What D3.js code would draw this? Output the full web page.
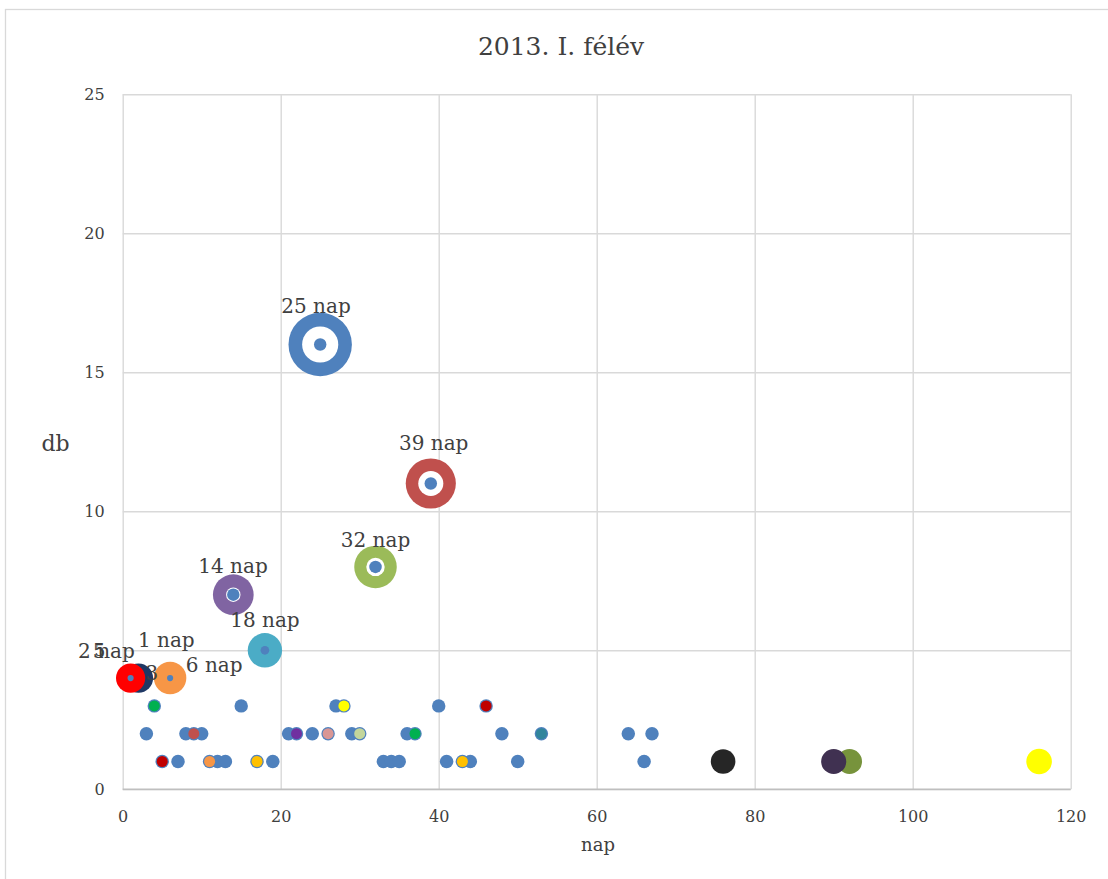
<!DOCTYPE html>
<html>
<head>
<meta charset="utf-8">
<script src="https://cdn.jsdelivr.net/npm/d3@7"></script>
<style>
body { margin: 0; background: #fff; }
text { font-family: "DejaVu Serif", serif; fill: #404040; }
</style>
</head>
<body>
<div id="cont"></div>
<script>

// data //

var title = "2013. I. félév";
var xTicks = [0, 20, 40, 60, 80, 100, 120];
var yTicks = [0, 5, 10, 15, 20, 25];

// small blue dots, one row per db value
var row1 = [5, 7, 11, 12, 13, 17, 19, 33, 34, 35, 41, 43, 44, 50, 66];
var row2 = [3, 8, 9, 10, 21, 22, 24, 26, 29, 30, 36, 37, 48, 53, 64, 67];
var row3 = [4, 15, 27, 28, 40, 46];
var baseSize = 0.72;

// big labelled bubbles
var bubNap   = [2, 1, 6, 18, 14, 32, 39, 25];
var bubDb    = [4, 4, 4, 5, 7, 8, 11, 16];
var bubSize  = [3.4, 3.4, 4.2, 4.7, 6.6, 7.2, 10, 16];
var bubColor = ["#1F3864", "#FF0000", "#F79646", "#4BACC6", "#8064A2", "#9BBB59", "#C0504D", "#4F81BD"];
var holeSize = [0, 0, 0, 0, 0.83, 1.35, 2.5, 5.2];
var coreSize = [0, 0.15, 0.15, 0.3, 0.62, 0.62, 0.62, 0.62];

// small coloured dots on top of the blue ones
var dotNap   = [5, 11, 17, 43, 9, 22, 26, 30, 37, 53, 4, 28, 46];
var dotDb    = [1, 1, 1, 1, 2, 2, 2, 2, 2, 2, 3, 3, 3];
var dotColor = ["#C00000", "#F79646", "#FFC000", "#FFC000", "#C0504D", "#7030A0", "#D99694", "#C3D69B", "#00B050", "#31859C", "#00B050", "#FFFF00", "#C00000"];
var dotSize = 0.48;

// single bubbles at db = 1
var loneNap   = [76, 92, 90, 116];
var loneDb    = [1, 1, 1, 1];
var loneSize  = [2.4, 2.5, 2.5, 2.6];
var loneColor = ["#262626", "#77933C", "#403151", "#FFFF00"];

// data labels (centre x, baseline y in data units)
var labText = ["25 nap", "39 nap", "32 nap", "14 nap", "18 nap", "1 nap", "6 nap", "2 nap", "5", "3"];
var labNap  = [24.47, 39.37, 32.0, 13.96, 18.0, 5.52, 11.58, -2.06, -3.0, 3.7];
var labDb   = [17.13, 12.2, 8.73, 7.79, 5.83, 5.13, 4.23, 4.72, 4.72, 3.93];

// svg //

var W = 1108, H = 879;
var svg = d3.select("#cont").append("svg").attr("width", W).attr("height", H);

svg.append("rect")
	.attr("x", 5.5).attr("y", 9.5)
	.attr("width", 1200).attr("height", 1000)
	.attr("fill", "#fff").attr("stroke", "#D9D9D9").attr("stroke-width", 1.3);

var mLeft = 122.7, mTop = 94.3, pw = 948, ph = 695;

var x = d3.scaleLinear().domain([0, 120]).range([mLeft, mLeft + pw]);
var y = d3.scaleLinear().domain([0, 25]).range([mTop + ph, mTop]);
var r = d3.scaleSqrt().domain([0, 16]).range([0, 31.7]);

var xAxis = svg.append("g")
	.attr("transform", "translate(0," + (mTop + ph) + ")")
	.call(d3.axisBottom(x).tickValues(xTicks).tickSize(-ph).tickPadding(21));
var yAxis = svg.append("g")
	.attr("transform", "translate(" + mLeft + ",0)")
	.call(d3.axisLeft(y).tickValues(yTicks).tickSize(-pw).tickPadding(18));

[xAxis, yAxis].forEach(function(a) {
	a.select(".domain").remove();
	a.selectAll(".tick line").attr("stroke", "#D9D9D9").attr("stroke-width", 1.4);
	a.selectAll(".tick text")
		.attr("font-family", "DejaVu Serif")
		.attr("font-size", 16)
		.style("fill", "#404040");
});

svg.append("line")
	.attr("x1", mLeft).attr("x2", mLeft + pw)
	.attr("y1", y(0)).attr("y2", y(0))
	.attr("stroke", "#BFBFBF").attr("stroke-width", 1.6);

svg.append("text")
	.attr("x", 561).attr("y", 55)
	.attr("text-anchor", "middle")
	.attr("font-size", 25)
	.text(title);

svg.append("text")
	.attr("x", 598).attr("y", 851)
	.attr("text-anchor", "middle")
	.attr("font-size", 18)
	.text("nap");

svg.append("text")
	.attr("x", 55.5).attr("y", 451)
	.attr("text-anchor", "middle")
	.attr("font-size", 22)
	.text("db");

// marks //

var plot = svg.append("g");

var bubbles = bubNap.map(function(d, i) {
	return { nap: d, db: bubDb[i], size: bubSize[i], color: bubColor[i], hole: holeSize[i], core: coreSize[i] };
});

plot.selectAll("circle.bub")
	.data(bubbles)
	.enter().append("circle")
	.attr("class", "bub")
	.attr("cx", function(d) { return x(d.nap); })
	.attr("cy", function(d) { return y(d.db); })
	.attr("r", function(d) { return r(d.size); })
	.attr("fill", function(d) { return d.color; });

plot.selectAll("circle.hole")
	.data(bubbles.filter(function(d) { return d.hole > 0; }))
	.enter().append("circle")
	.attr("class", "hole")
	.attr("cx", function(d) { return x(d.nap); })
	.attr("cy", function(d) { return y(d.db); })
	.attr("r", function(d) { return r(d.hole); })
	.attr("fill", "#fff");

plot.selectAll("circle.core")
	.data(bubbles.filter(function(d) { return d.core > 0; }))
	.enter().append("circle")
	.attr("class", "core")
	.attr("cx", function(d) { return x(d.nap); })
	.attr("cy", function(d) { return y(d.db); })
	.attr("r", function(d) { return r(d.core); })
	.attr("fill", "#4F81BD");

var base = [];
row1.forEach(function(n) { base.push({ nap: n, db: 1 }); });
row2.forEach(function(n) { base.push({ nap: n, db: 2 }); });
row3.forEach(function(n) { base.push({ nap: n, db: 3 }); });

plot.selectAll("circle.base")
	.data(base)
	.enter().append("circle")
	.attr("class", "base")
	.attr("cx", function(d) { return x(d.nap); })
	.attr("cy", function(d) { return y(d.db); })
	.attr("r", r(baseSize))
	.attr("fill", "#4F81BD");

plot.selectAll("circle.dot")
	.data(dotNap.map(function(d, i) { return { nap: d, db: dotDb[i], color: dotColor[i] }; }))
	.enter().append("circle")
	.attr("class", "dot")
	.attr("cx", function(d) { return x(d.nap); })
	.attr("cy", function(d) { return y(d.db); })
	.attr("r", r(dotSize))
	.attr("fill", function(d) { return d.color; });

plot.selectAll("circle.lone")
	.data(loneNap.map(function(d, i) { return { nap: d, db: loneDb[i], size: loneSize[i], color: loneColor[i] }; }))
	.enter().append("circle")
	.attr("class", "lone")
	.attr("cx", function(d) { return x(d.nap); })
	.attr("cy", function(d) { return y(d.db); })
	.attr("r", function(d) { return r(d.size); })
	.attr("fill", function(d) { return d.color; });

plot.selectAll("text.lab")
	.data(labText.map(function(t, i) { return { text: t, nap: labNap[i], db: labDb[i] }; }))
	.enter().append("text")
	.attr("class", "lab")
	.attr("x", function(d) { return x(d.nap); })
	.attr("y", function(d) { return y(d.db); })
	.attr("text-anchor", "middle")
	.attr("font-size", 20)
	.text(function(d) { return d.text; });

</script>
</body>
</html>
